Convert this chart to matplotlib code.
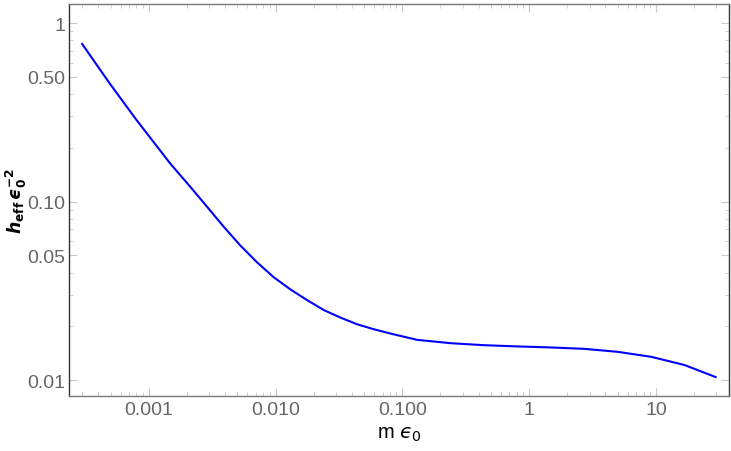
import matplotlib
matplotlib.use("Agg")
import matplotlib.pyplot as plt
import matplotlib.ticker as mticker

# values
m_eps = [2.985e-4, 4.94e-4, 8.04e-4, 1.474e-3, 2.121e-3, 2.873e-3, 3.888e-3,
         5.268e-3, 7.14e-3, 9.66e-3, 0.01309, 0.01774, 0.0240, 0.03253,
         0.04408, 0.05963, 0.0808, 0.1314, 0.2409, 0.4417, 0.811, 1.487,
         2.727, 5.006, 9.18, 16.83, 29.6]
h_eff = [0.764, 0.4574, 0.2855, 0.1637, 0.1213, 0.0938, 0.0725,
         0.0568, 0.0457, 0.0377, 0.0322, 0.02804, 0.02467, 0.02237,
         0.02052, 0.01925, 0.0182, 0.01678, 0.01608, 0.01567, 0.01542, 0.01522,
         0.01495, 0.01438, 0.01349, 0.01213, 0.01039]

xticks = [0.001, 0.01, 0.1, 1, 10]
xlabels = ['0.001', '0.010', '0.100', '1', '10']
yticks = [0.01, 0.05, 0.1, 0.5, 1]
ylabels = ['0.01', '0.05', '0.10', '0.50', '1']
yminor = [0.02, 0.03, 0.04, 0.06, 0.07, 0.08, 0.09,
          0.2, 0.3, 0.4, 0.6, 0.7, 0.8, 0.9]

plt.rcParams['font.family'] = ['Liberation Sans', 'DejaVu Sans']
plt.rcParams['mathtext.fontset'] = 'custom'
plt.rcParams['mathtext.rm'] = 'DejaVu Sans'
plt.rcParams['mathtext.it'] = 'DejaVu Sans:italic'
plt.rcParams['mathtext.bf'] = 'DejaVu Sans:italic:bold'
plt.rcParams['mathtext.sf'] = 'DejaVu Sans:bold'

fig = plt.figure(figsize=(7.31, 4.52), dpi=100)
ax = fig.add_axes([0.095, 0.122, 0.902, 0.867])

ax.plot(m_eps, h_eff, color='#0000ff', lw=1.5)
ax.set_xscale('log')
ax.set_yscale('log')
ax.set_xlim(2.37e-4, 37.6)
ax.set_ylim(0.00815, 1.28)

ax.xaxis.set_major_locator(mticker.FixedLocator(xticks))
ax.xaxis.set_major_formatter(mticker.FixedFormatter(xlabels))
ax.yaxis.set_major_locator(mticker.FixedLocator(yticks))
ax.yaxis.set_major_formatter(mticker.FixedFormatter(ylabels))
ax.xaxis.set_minor_locator(mticker.LogLocator(subs=range(2, 10)))
ax.xaxis.set_minor_formatter(mticker.NullFormatter())
ax.yaxis.set_minor_locator(mticker.FixedLocator(yminor))
ax.yaxis.set_minor_formatter(mticker.NullFormatter())

ax.tick_params(which='both', direction='in', top=True, right=True,
               color='#c8c8c8', labelcolor='#666666', labelsize=14)
ax.tick_params(axis='x', pad=4)
ax.tick_params(axis='y', pad=3)
ax.tick_params(which='major', length=6, width=0.8)
ax.tick_params(which='minor', length=3, width=0.6)

for side in ['left', 'right']:
    ax.spines[side].set_color('#333333')
for side in ['top', 'bottom']:
    ax.spines[side].set_color('#777777')
for s in ax.spines.values():
    s.set_linewidth(1.0)

ax.set_xlabel(r'm $ϵ_0$', fontsize=14.5)
ax.xaxis.set_label_coords(0.5, -0.072)
ax.set_ylabel(r'$\mathbf{h}_{\mathsf{eff}}\,\mathbf{ϵ}_{\mathsf{0}}^{\mathsf{-2}}$',
              fontsize=12.5)
ax.yaxis.set_label_coords(-0.062, 0.5)

fig.savefig('out.png', dpi=100)
